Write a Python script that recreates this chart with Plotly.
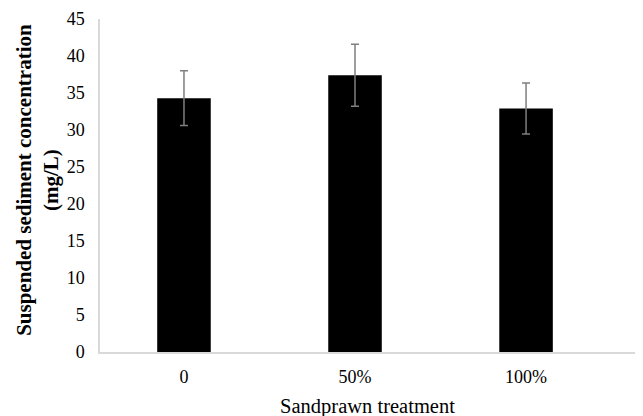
import plotly.graph_objects as go

categories = ["0", "50%", "100%"]
values = [34.3, 37.4, 32.9]
errors = [3.7, 4.2, 3.45]
y_ticks = [0, 5, 10, 15, 20, 25, 30, 35, 40, 45]

# page body has an 8px margin; the figure is laid out in its own coordinates
W, H = 627, 416
L, R, T, B = 92, 0, 11, 72
pw = W - L - R

fig = go.Figure()
fig.add_trace(go.Bar(
    x=list(range(len(categories))),
    y=values,
    width=0.313,
    marker=dict(color="black", line=dict(width=0)),
    error_y=dict(type="data", array=errors, visible=True, color="#7f7f7f",
                 thickness=1.5, width=4),
))

font_family = "Liberation Serif, Times New Roman, serif"
fig.update_layout(
    width=W, height=H,
    margin=dict(l=L, r=R, t=T, b=B, autoexpand=False),
    paper_bgcolor="white", plot_bgcolor="white",
    showlegend=False,
    font=dict(family=font_family, color="black", size=18),
    xaxis=dict(
        range=[-0.491, 2.637],
        tickmode="array", tickvals=list(range(len(categories))), ticktext=categories,
        showgrid=False, zeroline=False,
        showline=True, linecolor="#d9d9d9", linewidth=1.5,
        ticks="outside", ticklen=8, tickcolor="white",
        tickfont=dict(size=18, family=font_family),
        title=dict(text="Sandprawn treatment", font=dict(size=20.5, family=font_family), standoff=12),
    ),
    yaxis=dict(
        range=[0, 45],
        tickmode="array", tickvals=y_ticks, ticktext=[str(v) for v in y_ticks],
        showgrid=False, zeroline=False,
        showline=True, linecolor="#d9d9d9", linewidth=1.5,
        ticks="outside", ticklen=10, tickcolor="white",
        tickfont=dict(size=18, family=font_family),
    ),
    annotations=[dict(
        text="<b>Suspended sediment concentration</b><br><b>(mg/L)</b>",
        textangle=-90,
        xref="paper", yref="paper",
        x=(30 - L) / pw, y=0.517,
        xanchor="center", yanchor="middle",
        showarrow=False,
        font=dict(size=21, family=font_family, color="black"),
    )],
)

fig.write_html("out.html")
